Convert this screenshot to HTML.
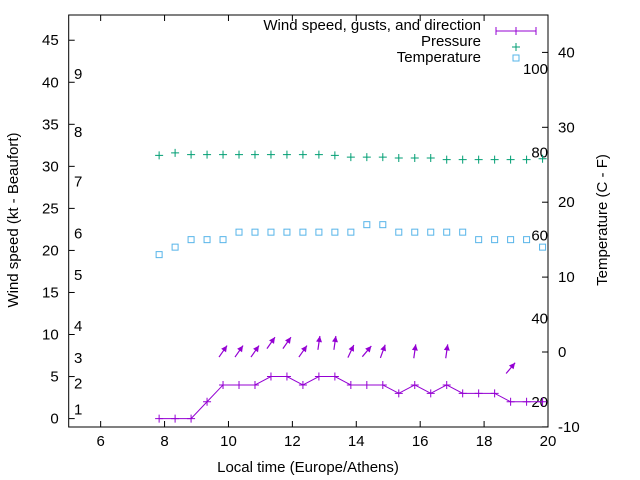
<!DOCTYPE html>
<html><head><meta charset="utf-8"><style>
body{margin:0;background:#fff}
svg{display:block;font-family:"Liberation Sans",sans-serif}
</style></head><body>
<svg id="c" width="640" height="480" viewBox="0 0 640 480"></svg>
<script>
const times=[7.83,8.33,8.83,9.33,9.83,10.33,10.83,11.33,11.83,12.33,12.83,13.33,13.83,14.33,14.83,15.33,15.83,16.33,16.83,17.33,17.83,18.33,18.83,19.33,19.83];
const windSpeed=[0,0,0,2,4,4,4,5,5,4,5,5,4,4,4,3,4,3,4,3,3,3,2,2,2];
const pressure=[31.3,31.6,31.4,31.4,31.4,31.4,31.4,31.4,31.4,31.4,31.4,31.3,31.1,31.1,31.1,31.0,31.0,31.0,30.8,30.8,30.8,30.8,30.8,30.8,30.9];
const temperature=[13,14,15,15,15,16,16,16,16,16,16,16,16,17,17,16,16,16,16,16,15,15,15,15,14];
const arrowTimes=[9.83,10.33,10.83,11.33,11.83,12.33,12.83,13.33,13.83,14.33,14.83,15.83,16.83,18.83];
const gusts=[8,8,8,9,9,8,9,9,8,8,8,8,8,6];
const directions=[35,35,35,35,35,35,8,8,25,40,20,8,8,40];
const xTicks=[6,8,10,12,14,16,18,20];
const yTicks=[0,5,10,15,20,25,30,35,40,45];
const y2Ticks=[-10,0,10,20,30,40];
const beaufortLabels=[["1",1.1],["2",4.2],["3",7.2],["4",11],["5",17.1],["6",22],["7",28.2],["8",34.1],["9",41]];
const fahrenheitLabels=[["100",100],["80",80],["60",60],["40",40],["20",20]];

const L=68.7,R=548,T=15,B=427;
const X=v=>L+(v-5)*(R-L)/15;
const Y=v=>B-(v+1)*(B-T)/49;
const Y2=v=>352-v*7.49;
const YF=f=>Y2((f-32)*5/9);
const svg=document.getElementById('c');
const NS='http://www.w3.org/2000/svg';
function mk(tag,attrs,parent){const e=document.createElementNS(NS,tag);for(const k in attrs)e.setAttribute(k,attrs[k]);(parent||svg).appendChild(e);return e;}
function txt(s,x,y,anchor,extra){const e=mk('text',Object.assign({x:x,y:y,'text-anchor':anchor||'middle','font-size':'15','fill':'#000'},extra||{}));e.textContent=s;return e;}

let f=mk('rect',{x:L,y:T,width:R-L,height:B-T,fill:'none',stroke:'#000','stroke-width':1});



xTicks.forEach(v=>{
  mk('line',{x1:X(v),x2:X(v),y1:B,y2:B-6,stroke:'#000'});
  mk('line',{x1:X(v),x2:X(v),y1:T,y2:T+6,stroke:'#000'});
  const t=txt(String(v),X(v),B+19,'middle');
  
  
});
yTicks.forEach(v=>{
  mk('line',{x1:L,x2:L+6,y1:Y(v),y2:Y(v),stroke:'#000'});
  const t=txt(String(v),L-10,Y(v)+5,'end');
  
  
});
y2Ticks.forEach(v=>{
  mk('line',{x1:R,x2:R-6,y1:Y2(v),y2:Y2(v),stroke:'#000'});
  const t=txt(String(v),R+10,Y2(v)+5,'start');
  
  
});
beaufortLabels.forEach(([s,v])=>{
  const t=txt(s,74,Y(v)+5,'start');
  
  
});
fahrenheitLabels.forEach(([s,v])=>{
  const t=txt(s,548,YF(v)+5,'end');
  
  
});

let at=txt('Local time (Europe/Athens)',308,472,'middle');


at=txt('Wind speed (kt - Beaufort)',0,0,'middle',{transform:'translate(18,220) rotate(-90)'});


at=txt('Temperature (C - F)',0,0,'middle',{transform:'translate(607,220) rotate(-90)'});



const PURPLE='#9400d3',GREEN='#009e73',BLUE='#56b4e9';
let pts=times.map((t,i)=>X(t)+','+Y(windSpeed[i])).join(' ');
let pl=mk('polyline',{points:pts,fill:'none',stroke:PURPLE,'stroke-width':1});


times.forEach((t,i)=>{
  const x=X(t),y=Y(windSpeed[i]);
  const p=mk('path',{d:`M${x-4},${y}H${x+4}M${x},${y-4}V${y+4}`,stroke:PURPLE,'stroke-width':1});
  
  
});
arrowTimes.forEach((t,i)=>{
  const cx=X(t),cy=Y(gusts[i]),a=directions[i]*Math.PI/180,len=14;
  const dx=Math.sin(a)*len/2,dy=-Math.cos(a)*len/2;
  const hx=cx+dx,hy=cy+dy,tx=cx-dx,ty=cy-dy;
  const ux=Math.sin(a),uy=-Math.cos(a);
  const bx=hx-ux*6,by=hy-uy*6;
  const g=mk('g',{});
  
  
  mk('line',{x1:tx,y1:ty,x2:hx,y2:hy,stroke:PURPLE,'stroke-width':1.2},g);
  mk('polygon',{points:`${hx},${hy} ${bx-uy*3},${by+ux*3} ${bx+uy*3},${by-ux*3}`,fill:PURPLE},g);
});
times.forEach((t,i)=>{
  const x=X(t),y=Y(pressure[i]);
  const p=mk('path',{d:`M${x-4},${y}H${x+4}M${x},${y-4}V${y+4}`,stroke:GREEN,'stroke-width':1});
  
  
});
times.forEach((t,i)=>{
  const x=X(t),y=Y2(temperature[i]);
  const r=mk('rect',{x:x-3,y:y-3,width:6,height:6,fill:'none',stroke:BLUE,'stroke-width':1});
  
  
});
const lg=mk('g',{});


let le=txt('Wind speed, gusts, and direction',481,30,'end');


mk('path',{d:'M496,31H536M496,27V35M536,27V35M516,27V35',stroke:PURPLE,'stroke-width':1},lg);
le=txt('Pressure',481,46,'end');


mk('path',{d:'M512,47H520M516,43V51',stroke:GREEN,'stroke-width':1},lg);
le=txt('Temperature',481,62,'end');


mk('rect',{x:513,y:55,width:6,height:6,fill:'none',stroke:BLUE},lg);
</script>
</body></html>
